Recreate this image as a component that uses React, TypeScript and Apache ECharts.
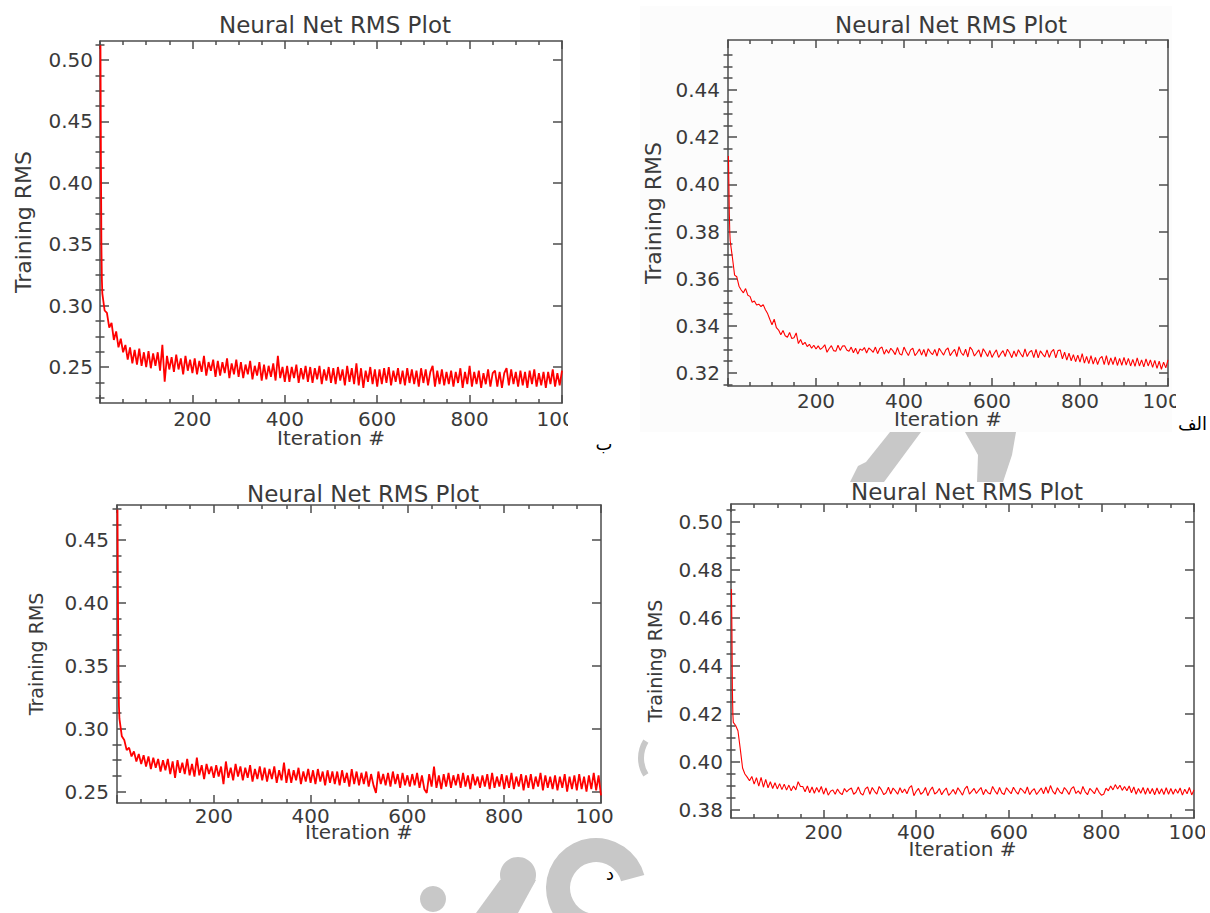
import React, { useEffect, useRef } from "react";
import * as echarts from "echarts";

// ---------- texts ----------
const CHART_TITLE = "Neural Net RMS Plot";
const X_AXIS_NAME = "Iteration #";
const Y_AXIS_NAME = "Training RMS";
const TAG_ALEF = "الف";
const TAG_BE = "ب";
const TAG_DAL = "د";

// ---------- x axis ----------
const X_MIN = 0;
const X_MAX = 1000;
const X_INTERVAL = 200;
const HEAD_ITERATIONS = [1, 2, 3, 4];
const SAMPLE_STEP = 5; // remaining samples at iterations 5, 10, ..., 1000

// ---------- y tick labels ----------
const yTicksBe = [0.25, 0.3, 0.35, 0.4, 0.45, 0.5];
const yTicksAlef = [0.32, 0.34, 0.36, 0.38, 0.4, 0.42, 0.44];
const yTicksDal = [0.25, 0.3, 0.35, 0.4, 0.45];
const yTicksJim = [0.38, 0.4, 0.42, 0.44, 0.46, 0.48, 0.5];

// ---------- series (top-left, "ب") ----------
const headBe = [0.512, 0.42, 0.35, 0.322];
const rmsBe = [
  0.310, 0.296, 0.294, 0.282, 0.286, 0.272, 0.279, 0.266, 0.273, 0.262,
  0.268, 0.256, 0.266, 0.253, 0.264, 0.252, 0.265, 0.251, 0.262, 0.250,
  0.263, 0.249, 0.261, 0.251, 0.262, 0.247, 0.268, 0.238, 0.259, 0.248,
  0.258, 0.246, 0.260, 0.248, 0.257, 0.244, 0.259, 0.247, 0.256, 0.245,
  0.257, 0.244, 0.255, 0.246, 0.259, 0.243, 0.254, 0.247, 0.256, 0.242,
  0.255, 0.243, 0.254, 0.245, 0.257, 0.241, 0.253, 0.244, 0.256, 0.242,
  0.254, 0.241, 0.252, 0.244, 0.255, 0.240, 0.251, 0.243, 0.254, 0.239,
  0.252, 0.240, 0.251, 0.242, 0.253, 0.239, 0.259, 0.241, 0.250, 0.238,
  0.251, 0.238, 0.250, 0.241, 0.252, 0.237, 0.249, 0.240, 0.251, 0.238,
  0.250, 0.237, 0.249, 0.240, 0.251, 0.236, 0.248, 0.239, 0.250, 0.237,
  0.249, 0.236, 0.250, 0.239, 0.248, 0.235, 0.251, 0.238, 0.249, 0.236,
  0.253, 0.235, 0.249, 0.233, 0.247, 0.238, 0.250, 0.236, 0.248, 0.234,
  0.248, 0.236, 0.249, 0.237, 0.250, 0.235, 0.247, 0.238, 0.249, 0.236,
  0.247, 0.235, 0.249, 0.237, 0.248, 0.236, 0.247, 0.234, 0.249, 0.237,
  0.248, 0.235, 0.246, 0.251, 0.234, 0.247, 0.236, 0.248, 0.235, 0.246,
  0.236, 0.247, 0.234, 0.246, 0.237, 0.249, 0.233, 0.246, 0.236, 0.251,
  0.234, 0.246, 0.236, 0.247, 0.233, 0.245, 0.236, 0.248, 0.234, 0.245,
  0.247, 0.234, 0.246, 0.233, 0.245, 0.249, 0.235, 0.248, 0.236, 0.246,
  0.234, 0.247, 0.235, 0.246, 0.233, 0.247, 0.236, 0.248, 0.234, 0.245,
  0.235, 0.246, 0.233, 0.246, 0.236, 0.248, 0.234, 0.245, 0.235, 0.247,
];

// ---------- series (top-right, "الف") ----------
const headAlef = [0.412, 0.4, 0.388, 0.38];
const rmsAlef = [
  0.3760, 0.3690, 0.3615, 0.3608, 0.3568, 0.3552, 0.3540, 0.3558, 0.3530, 0.3525,
  0.3500, 0.3505, 0.3488, 0.3492, 0.3482, 0.3490, 0.3468, 0.3452, 0.3428, 0.3405,
  0.3428, 0.3392, 0.3382, 0.3362, 0.3380, 0.3358, 0.3352, 0.3372, 0.3346, 0.3350,
  0.3370, 0.3325, 0.3342, 0.3320, 0.3330, 0.3312, 0.3322, 0.3305, 0.3318, 0.3302,
  0.3315, 0.3300, 0.3308, 0.3320, 0.3288, 0.3304, 0.3316, 0.3295, 0.3292, 0.3318,
  0.3296, 0.3314, 0.3316, 0.3298, 0.3292, 0.3310, 0.3286, 0.3305, 0.3280, 0.3302,
  0.3296, 0.3308, 0.3285, 0.3306, 0.3298, 0.3288, 0.3310, 0.3282, 0.3304, 0.3310,
  0.3280, 0.3300, 0.3284, 0.3305, 0.3294, 0.3278, 0.3308, 0.3282, 0.3276, 0.3310,
  0.3290, 0.3274, 0.3298, 0.3305, 0.3274, 0.3286, 0.3302, 0.3276, 0.3300, 0.3270,
  0.3303, 0.3288, 0.3278, 0.3300, 0.3272, 0.3305, 0.3290, 0.3276, 0.3298, 0.3306,
  0.3274, 0.3288, 0.3300, 0.3270, 0.3312, 0.3286, 0.3275, 0.3301, 0.3268, 0.3310,
  0.3298, 0.3272, 0.3285, 0.3298, 0.3268, 0.3303, 0.3288, 0.3270, 0.3296, 0.3266,
  0.3284, 0.3298, 0.3266, 0.3282, 0.3295, 0.3270, 0.3301, 0.3286, 0.3265, 0.3294,
  0.3270, 0.3299, 0.3282, 0.3268, 0.3302, 0.3270, 0.3288, 0.3296, 0.3265, 0.3300,
  0.3264, 0.3294, 0.3280, 0.3268, 0.3298, 0.3266, 0.3290, 0.3300, 0.3264, 0.3295,
  0.3298, 0.3260, 0.3288, 0.3255, 0.3284, 0.3252, 0.3278, 0.3248, 0.3276, 0.3246,
  0.3282, 0.3242, 0.3270, 0.3240, 0.3274, 0.3238, 0.3266, 0.3236, 0.3262, 0.3270,
  0.3236, 0.3274, 0.3234, 0.3264, 0.3236, 0.3268, 0.3232, 0.3262, 0.3233, 0.3266,
  0.3234, 0.3262, 0.3230, 0.3258, 0.3228, 0.3264, 0.3230, 0.3256, 0.3226, 0.3260,
  0.3230, 0.3256, 0.3224, 0.3254, 0.3220, 0.3250, 0.3216, 0.3246, 0.3222, 0.3256,
];

// ---------- series (bottom-left, "د") ----------
const headDal = [0.474, 0.4, 0.345, 0.318];
const rmsDal = [
  0.308, 0.294, 0.291, 0.283, 0.285, 0.278, 0.282, 0.274, 0.280, 0.272,
  0.279, 0.270, 0.278, 0.268, 0.277, 0.269, 0.276, 0.266, 0.275, 0.267,
  0.276, 0.264, 0.274, 0.261, 0.275, 0.265, 0.273, 0.264, 0.276, 0.263,
  0.272, 0.262, 0.277, 0.263, 0.271, 0.260, 0.272, 0.264, 0.270, 0.261,
  0.271, 0.262, 0.270, 0.256, 0.274, 0.261, 0.269, 0.259, 0.272, 0.262,
  0.270, 0.259, 0.269, 0.261, 0.271, 0.258, 0.268, 0.260, 0.270, 0.259,
  0.269, 0.258, 0.268, 0.260, 0.270, 0.257, 0.267, 0.259, 0.273, 0.257,
  0.268, 0.257, 0.267, 0.259, 0.269, 0.256, 0.266, 0.258, 0.268, 0.257,
  0.267, 0.256, 0.268, 0.258, 0.266, 0.255, 0.267, 0.257, 0.266, 0.256,
  0.266, 0.255, 0.267, 0.257, 0.265, 0.254, 0.268, 0.256, 0.266, 0.255,
  0.265, 0.256, 0.266, 0.254, 0.264, 0.255, 0.249, 0.266, 0.256, 0.264,
  0.255, 0.265, 0.254, 0.266, 0.256, 0.264, 0.253, 0.265, 0.255, 0.263,
  0.254, 0.264, 0.255, 0.265, 0.253, 0.263, 0.252, 0.249, 0.264, 0.254,
  0.270, 0.253, 0.263, 0.252, 0.264, 0.254, 0.265, 0.253, 0.263, 0.255,
  0.264, 0.253, 0.265, 0.254, 0.263, 0.252, 0.264, 0.255, 0.262, 0.253,
  0.263, 0.254, 0.264, 0.252, 0.265, 0.253, 0.262, 0.254, 0.264, 0.252,
  0.263, 0.253, 0.265, 0.252, 0.262, 0.254, 0.264, 0.251, 0.263, 0.253,
  0.264, 0.252, 0.262, 0.254, 0.265, 0.251, 0.263, 0.253, 0.262, 0.252,
  0.263, 0.251, 0.262, 0.253, 0.264, 0.250, 0.262, 0.252, 0.263, 0.251,
  0.264, 0.252, 0.262, 0.250, 0.263, 0.252, 0.265, 0.251, 0.263, 0.247,
];

// ---------- series (bottom-right) ----------
const headJim = [0.472, 0.455, 0.43, 0.42];
const rmsJim = [
  0.4165, 0.4152, 0.4130, 0.4055, 0.3975, 0.3950, 0.3937, 0.3922, 0.3940, 0.3908,
  0.3935, 0.3900, 0.3936, 0.3895, 0.3928, 0.3893, 0.3918, 0.3890, 0.3914, 0.3888,
  0.3910, 0.3885, 0.3908, 0.3883, 0.3904, 0.3880, 0.3900, 0.3884, 0.3918, 0.3898,
  0.3898, 0.3876, 0.3900, 0.3872, 0.3896, 0.3870, 0.3894, 0.3874, 0.3898, 0.3866,
  0.3892, 0.3862, 0.3878, 0.3884, 0.3866, 0.3888, 0.3872, 0.3864, 0.3890, 0.3876,
  0.3886, 0.3892, 0.3866, 0.3874, 0.3896, 0.3870, 0.3862, 0.3888, 0.3896, 0.3866,
  0.3894, 0.3878, 0.3866, 0.3898, 0.3884, 0.3864, 0.3872, 0.3895, 0.3867, 0.3892,
  0.3880, 0.3866, 0.3893, 0.3872, 0.3888, 0.3868, 0.3892, 0.3902, 0.3860, 0.3878,
  0.3890, 0.3866, 0.3874, 0.3894, 0.3860, 0.3882, 0.3896, 0.3867, 0.3874, 0.3890,
  0.3864, 0.3880, 0.3892, 0.3861, 0.3872, 0.3886, 0.3866, 0.3893, 0.3878, 0.3862,
  0.3888, 0.3900, 0.3866, 0.3878, 0.3890, 0.3869, 0.3882, 0.3894, 0.3864, 0.3886,
  0.3872, 0.3867, 0.3898, 0.3880, 0.3866, 0.3894, 0.3871, 0.3865, 0.3893, 0.3880,
  0.3868, 0.3895, 0.3878, 0.3866, 0.3891, 0.3882, 0.3869, 0.3896, 0.3864, 0.3880,
  0.3889, 0.3865, 0.3878, 0.3892, 0.3868, 0.3896, 0.3870, 0.3902, 0.3878, 0.3866,
  0.3893, 0.3876, 0.3868, 0.3894, 0.3882, 0.3865, 0.3889, 0.3897, 0.3869, 0.3880,
  0.3866, 0.3898, 0.3876, 0.3864, 0.3890, 0.3880, 0.3868, 0.3893, 0.3874, 0.3862,
  0.3866, 0.3891, 0.3880, 0.3900, 0.3884, 0.3906, 0.3888, 0.3903, 0.3882, 0.3898,
  0.3880, 0.3900, 0.3872, 0.3896, 0.3866, 0.3890, 0.3870, 0.3894, 0.3866, 0.3892,
  0.3868, 0.3890, 0.3864, 0.3892, 0.3867, 0.3889, 0.3865, 0.3893, 0.3866, 0.3890,
  0.3866, 0.3888, 0.3870, 0.3892, 0.3862, 0.3887, 0.3868, 0.3894, 0.3863, 0.3884,
];

// ---------- styling ----------
const FONT = "DejaVu Sans";
const AXIS_COLOR = "#4d4d4d";
const TEXT_COLOR = "#3a3a3a";
const LINE_COLOR = "#ff0000";
const WATERMARK = "#c8c8c8";

type Panel = {
  box: { left: number; top: number; width: number; height: number };
  grid: { left: number; top: number; width: number; height: number };
  yMin: number;
  yMax: number;
  yStep: number;
  yTicks: number[];
  head: number[];
  values: number[];
  lineWidth: number;
  titleX: number;
  titleTop: number;
  yNameGap: number;
  yNameSize: number;
  yLabelMargin: number;
  xLabelMargin: number;
  xNameGap: number;
};

function minorValues(min: number, max: number, step: number) {
  const out: number[] = [];
  const m = step / 4;
  const start = Math.ceil(min / m - 1e-6);
  const end = Math.floor(max / m + 1e-6);
  for (let k = start; k <= end; k++) {
    const v = +(k * m).toFixed(6);
    const r = v / step;
    if (Math.abs(r - Math.round(r)) > 1e-6) out.push(v);
  }
  return out;
}

function buildOption(p: Panel) {
  const lineStyle = { color: AXIS_COLOR, width: 1.5 };
  const minor = minorValues(p.yMin, p.yMax, p.yStep);
  const data = p.head
    .map((v, i) => [HEAD_ITERATIONS[i], v])
    .concat(p.values.map((v, i) => [(i + 1) * SAMPLE_STEP, v]));
  const textBase = { color: TEXT_COLOR, fontFamily: FONT };
  const xCommon = {
    type: "value",
    min: X_MIN,
    max: X_MAX,
    interval: X_INTERVAL,
    axisLine: { show: true, onZero: false, lineStyle },
    axisTick: { show: true, inside: true, length: 8, lineStyle },
    minorTick: { show: true, splitNumber: 4, length: 4, lineStyle },
    splitLine: { show: false },
    minorSplitLine: { show: false },
  };
  const yCommon = {
    type: "value",
    min: p.yMin,
    max: p.yMax,
    splitLine: { show: false },
  };
  return {
    animation: false,
    backgroundColor: "transparent",
    title: {
      text: CHART_TITLE,
      left: p.titleX,
      top: p.titleTop,
      textAlign: "center",
      textStyle: { ...textBase, fontSize: 23, fontWeight: "normal" },
    },
    grid: { ...p.grid, containLabel: false, outerBoundsMode: "none" },
    xAxis: [
      {
        ...xCommon,
        position: "bottom",
        axisLabel: {
          ...textBase,
          fontSize: 20,
          lineHeight: 20,
          margin: p.xLabelMargin,
          showMinLabel: false,
          formatter: (v: number) => String(v),
        },
        name: X_AXIS_NAME,
        nameLocation: "middle",
        nameGap: p.xNameGap,
        nameMoveOverlap: false,
        nameTextStyle: { ...textBase, fontSize: 20, lineHeight: 20 },
      },
      { ...xCommon, position: "top", axisLabel: { show: false } },
    ],
    yAxis: [
      {
        ...yCommon,
        position: "left",
        axisLine: { show: true, onZero: false, lineStyle },
        axisTick: { show: true, inside: true, length: 9, lineStyle, customValues: p.yTicks },
        axisLabel: {
          ...textBase,
          fontSize: 20,
          margin: p.yLabelMargin,
          customValues: p.yTicks,
          formatter: (v: number) => v.toFixed(2),
        },
        name: Y_AXIS_NAME,
        nameLocation: "middle",
        nameGap: p.yNameGap,
        nameRotate: 90,
        nameMoveOverlap: false,
        nameTextStyle: { ...textBase, fontSize: p.yNameSize },
      },
      {
        ...yCommon,
        position: "left",
        axisLine: { show: false },
        axisTick: { show: true, inside: true, length: 4.5, lineStyle, customValues: minor },
        axisLabel: { show: false },
      },
      {
        ...yCommon,
        position: "right",
        axisLine: { show: true, onZero: false, lineStyle },
        axisTick: { show: true, inside: true, length: 9, lineStyle, customValues: p.yTicks },
        axisLabel: { show: false },
      },
      {
        ...yCommon,
        position: "right",
        axisLine: { show: false },
        axisTick: { show: true, inside: true, length: 4.5, lineStyle, customValues: minor },
        axisLabel: { show: false },
      },
    ],
    series: [
      {
        type: "line",
        xAxisIndex: 0,
        yAxisIndex: 0,
        data,
        showSymbol: false,
        symbol: "none",
        clip: true,
        lineStyle: { color: LINE_COLOR, width: p.lineWidth },
        itemStyle: { color: LINE_COLOR },
      },
    ],
  };
}

const panels: Panel[] = [
  {
    // top-left
    box: { left: 0, top: 0, width: 568, height: 460 },
    grid: { left: 100, top: 41, width: 462, height: 362 },
    yMin: 0.2207,
    yMax: 0.5154,
    yStep: 0.05,
    yTicks: yTicksBe,
    head: headBe,
    values: rmsBe,
    lineWidth: 1.8,
    titleX: 330,
    titleTop: 8,
    yNameGap: 66,
    yNameSize: 22,
    yLabelMargin: 7,
    xLabelMargin: 6,
    xNameGap: 25,
  },
  {
    // top-right
    box: { left: 600, top: 0, width: 576, height: 460 },
    grid: { left: 128, top: 40, width: 440, height: 346 },
    yMin: 0.3145,
    yMax: 0.4612,
    yStep: 0.02,
    yTicks: yTicksAlef,
    head: headAlef,
    values: rmsAlef,
    lineWidth: 1.1,
    titleX: 346,
    titleTop: 8,
    yNameGap: 64,
    yNameSize: 22,
    yLabelMargin: 8,
    xLabelMargin: 5,
    xNameGap: 23,
  },
  {
    // bottom-left
    box: { left: 0, top: 470, width: 614, height: 443 },
    grid: { left: 117, top: 35, width: 484, height: 298 },
    yMin: 0.241,
    yMax: 0.4778,
    yStep: 0.05,
    yTicks: yTicksDal,
    head: headDal,
    values: rmsDal,
    lineWidth: 1.8,
    titleX: 358,
    titleTop: 7,
    yNameGap: 72,
    yNameSize: 19,
    yLabelMargin: 8,
    xLabelMargin: 3,
    xNameGap: 19,
  },
  {
    // bottom-right
    box: { left: 620, top: 470, width: 585, height: 443 },
    grid: { left: 111, top: 34, width: 463, height: 314 },
    yMin: 0.3767,
    yMax: 0.5074,
    yStep: 0.02,
    yTicks: yTicksJim,
    head: headJim,
    values: rmsJim,
    lineWidth: 1.1,
    titleX: 342,
    titleTop: 5,
    yNameGap: 67,
    yNameSize: 19,
    yLabelMargin: 8,
    xLabelMargin: 4,
    xNameGap: 21,
  },
];

const backgroundOption = {
  animation: false,
  backgroundColor: "#ffffff",
  graphic: [
    { type: "rect", shape: { x: 640, y: 6, width: 532, height: 426 }, style: { fill: "#fcfcfc" } },
    {
      type: "polygon",
      shape: { points: [[890, 432], [921, 432], [884, 482], [850, 482], [858, 466], [866, 462]] },
      style: { fill: WATERMARK },
    },
    {
      type: "polygon",
      shape: { points: [[965, 432], [1016, 432], [1012, 455], [1003, 482], [977, 482], [978, 455]] },
      style: { fill: WATERMARK },
    },
    { type: "circle", shape: { cx: 433, cy: 899, r: 13 }, style: { fill: WATERMARK } },
    { type: "circle", shape: { cx: 518, cy: 875, r: 18 }, style: { fill: WATERMARK } },
    {
      type: "polygon",
      shape: { points: [[500, 880], [536, 880], [518, 913], [476, 913]] },
      style: { fill: WATERMARK },
    },
    {
      type: "sector",
      shape: { cx: 596, cy: 888, r: 50, r0: 26, startAngle: (100 * Math.PI) / 180, endAngle: (345 * Math.PI) / 180, clockwise: true },
      style: { fill: WATERMARK },
    },
    {
      type: "sector",
      shape: { cx: 673, cy: 758, r: 35, r0: 29, startAngle: (148 * Math.PI) / 180, endAngle: (212 * Math.PI) / 180, clockwise: true },
      style: { fill: WATERMARK },
    },
    {
      type: "text",
      x: 1207,
      y: 423,
      style: { text: TAG_ALEF, fill: "#000", fontSize: 18, fontFamily: FONT, align: "right", verticalAlign: "middle" },
    },
    {
      type: "text",
      x: 604,
      y: 443,
      style: { text: TAG_BE, fill: "#000", fontSize: 18, fontFamily: FONT, align: "center", verticalAlign: "middle" },
    },
    {
      type: "text",
      x: 610,
      y: 873,
      style: { text: TAG_DAL, fill: "#000", fontSize: 18, fontFamily: FONT, align: "center", verticalAlign: "middle" },
    },
  ],
};

const panelOptions = panels.map(buildOption);

function EChart({ option, style }: { option: any; style: React.CSSProperties }) {
  const ref = useRef<HTMLDivElement>(null);
  useEffect(() => {
    if (!ref.current) return;
    const chart = echarts.init(ref.current, null, { renderer: "svg" });
    chart.setOption(option);
    return () => chart.dispose();
  }, [option]);
  return <div ref={ref} style={style} />;
}

export default function App() {
  return (
    <div
      style={{
        position: "absolute",
        left: 0,
        top: 0,
        width: 1210,
        height: 913,
        overflow: "hidden",
        background: "#fff",
      }}
    >
      <EChart
        option={backgroundOption}
        style={{ position: "absolute", left: 0, top: 0, width: 1210, height: 913 }}
      />
      {panels.map((p, i) => (
        <EChart
          key={i}
          option={panelOptions[i]}
          style={{ position: "absolute", left: p.box.left, top: p.box.top, width: p.box.width, height: p.box.height }}
        />
      ))}
    </div>
  );
}
